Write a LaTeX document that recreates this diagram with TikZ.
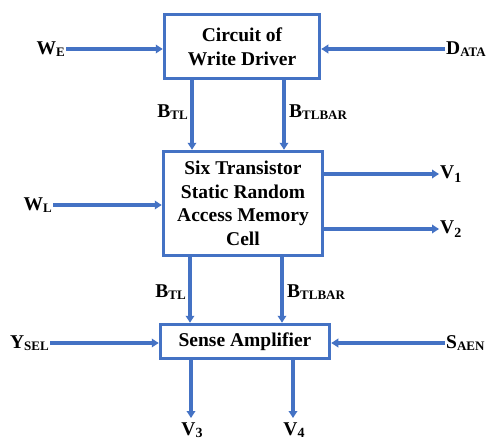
\documentclass[tikz,border=0pt]{standalone}
\usepackage{fontspec}
\setmainfont{Liberation Serif}
\usetikzlibrary{arrows.meta}
\definecolor{linkblue}{RGB}{68,114,196}
% subscript set as small capitals slightly below the baseline
\newcommand\lowsub[1]{\raisebox{-1.8pt}{\fontsize{13}{13}\selectfont #1}}
\newcommand\numsub[1]{\raisebox{-4pt}{\fontsize{14}{14}\selectfont #1}}
\newcommand\botsub[1]{\raisebox{-2pt}{\fontsize{14}{14}\selectfont #1}}
\begin{document}
\begin{tikzpicture}[x=1pt,y=-1pt,
  font=\fontsize{19.5}{24}\selectfont\bfseries,
  block/.style={draw=linkblue,line width=3.5pt,align=center,inner sep=0pt},
  sig/.style={inner sep=1pt},
  wire/.style={draw=linkblue,line width=3.8pt,-{Triangle[length=7pt,width=8.5pt]}}]
\useasboundingbox (0,0) rectangle (492,439);

% blocks
\node[block,minimum width=155pt,minimum height=64pt] (wd) at (242,46.5)
  {Circuit of\\Write Driver};
\node[block,minimum width=159pt,minimum height=104pt,font=\fontsize{19.5}{23.5}\selectfont\bfseries] (cell) at (243,203.5)
  {Six Transistor\\Static Random\\Access Memory\\Cell};
\node[block,minimum width=169pt,minimum height=34pt] (sa) at (245,341.5)
  {Sense Amplifier};

% signal labels
\node[sig,anchor=east] (we) at (66,49) {W\lowsub{E}};
\node[sig,anchor=west] (data) at (445,49) {D\lowsub{ATA}};
\node[sig,anchor=east] (wl) at (53,205) {W\lowsub{L}};
\node[sig,anchor=west] (v1) at (439,174) {V\numsub{1}};
\node[sig,anchor=west] (v2) at (439,229) {V\numsub{2}};
\node[sig,anchor=east] (ysel) at (50,343) {Y\lowsub{SEL}};
\node[sig,anchor=west] (saen) at (445,343) {S\lowsub{AEN}};
\node[sig] (v3) at (192,430) {V\botsub{3}};
\node[sig] (v4) at (294,430) {V\botsub{4}};

% bit line labels
\node[sig,anchor=east] (btl1) at (189,112) {B\lowsub{TL}};
\node[sig,anchor=west] (btlb1) at (288,112) {B\lowsub{TLBAR}};
\node[sig,anchor=east] (btl2) at (187,292) {B\lowsub{TL}};
\node[sig,anchor=west] (btlb2) at (286,292) {B\lowsub{TLBAR}};

% bit line end points
\coordinate (wdl) at (192,80);
\coordinate (wdr) at (284,80);
\coordinate (cl) at (190,257);
\coordinate (cr) at (282,257);
\coordinate (sal) at (191,360);
\coordinate (sar) at (293,360);
\coordinate (v3in) at (191,418);
\coordinate (v4in) at (293,418);

% connectors
\draw[wire] (we.east) -- (we.east -| wd.west);
\draw[wire] (data.west) -- (data.west -| wd.east);
\draw[wire] (wdl) -- (wdl |- cell.north);
\draw[wire] (wdr) -- (wdr |- cell.north);
\draw[wire] (wl.east) -- (wl.east -| cell.west);
\draw[wire] (v1.west -| cell.east) -- (v1.west);
\draw[wire] (v2.west -| cell.east) -- (v2.west);
\draw[wire] (cl) -- (cl |- sa.north);
\draw[wire] (cr) -- (cr |- sa.north);
\draw[wire] (ysel.east) -- (ysel.east -| sa.west);
\draw[wire] (saen.west) -- (saen.west -| sa.east);
\draw[wire] (sal) -- (v3in);
\draw[wire] (sar) -- (v4in);
\end{tikzpicture}
\end{document}
